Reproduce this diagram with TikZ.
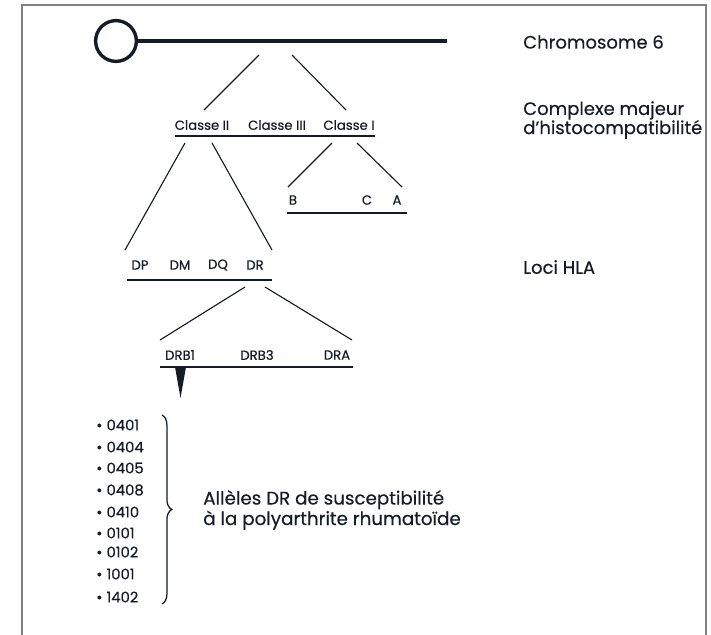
\documentclass[tikz,border=0pt]{standalone}
\usepackage{fontspec}
\setmainfont{Poppins}[FakeBold=0.35]
\usetikzlibrary{positioning, decorations.pathreplacing}

\definecolor{ink}{RGB}{20,28,40}

\begin{document}
\begin{tikzpicture}[x=0.025cm, y=-0.025cm, ink,
    lbl/.style={inner sep=0pt, font=\fontsize{9.4}{10}\selectfont},
    side/.style={inner sep=0pt, anchor=west, align=left, font=\fontsize{12.8}{13.6}\selectfont},
    allele/.style={inner sep=0pt, anchor=west, font=\fontsize{10.5}{11}\selectfont},
    bar/.style={line width=2pt},
    twig/.style={line width=0.8pt}]
    \useasboundingbox (0,0) rectangle (711,634);

    % frame
    \draw[gray, line width=0.9pt] (22,650) -- (22,5) -- (706,5) -- (706,650);

    % chromosome 6
    \node[circle, draw, line width=2.4pt, minimum size=29, inner sep=0pt] (cent) at (116,41) {};
    \coordinate (chr-end) at (447,41);
    \draw[line width=2.4pt] (cent.east) -- (chr-end);
    \node[side] (lab-chr) at (523,42) {Chromosome 6};

    % complexe majeur
    \coordinate (chr-l) at (259,55);
    \coordinate (chr-r) at (292,55);
    \node[lbl] (cl2) at (202,125) {Classe II};
    \node[lbl] (cl3) at (277,125) {Classe III};
    \node[lbl] (cl1) at (349,125) {Classe I};
    \coordinate (cmh-w) at (175,136);
    \coordinate (cmh-e) at (375,136);
    \draw[bar] (cmh-w) -- (cmh-e);
    \draw[twig] (chr-l) -- (204,110);
    \draw[twig] (chr-r) -- (346,110);
    \node[side] (lab-cmh) at (523,120) {Complexe majeur\\d'histocompatibilité};

    % classe I
    \node[lbl] (gB) at (293,200) {B};
    \node[lbl] (gC) at (367,200) {C};
    \node[lbl] (gA) at (397,200) {A};
    \draw[bar] (287,213) -- (407,213);
    \draw[twig] (332,143) -- (288,187);
    \draw[twig] (357,143) -- (402,187);

    % loci HLA
    \node[lbl] (dp) at (140,265) {DP};
    \node[lbl] (dm) at (180,265) {DM};
    \node[lbl] (dq) at (218,265) {DQ};
    \node[lbl] (dr) at (255,265) {DR};
    \draw[bar] (127,280) -- (272,280);
    \draw[twig] (185,143) -- (125,250);
    \draw[twig] (212,143) -- (272,250);
    \node[side] (lab-hla) at (523,267) {Loci HLA};

    % region DR
    \node[lbl] (drb1) at (180,355) {DRB1};
    \node[lbl] (drb3) at (257,355) {DRB3};
    \node[lbl] (dra) at (337,355) {DRA};
    \draw[bar] (160,367) -- (353,367);
    \draw[twig] (245,287) -- (160,340);
    \draw[twig] (265,287) -- (352,340);
    \fill (175,367) -- (186,367) -- (180.5,398) -- cycle;

    % alleles
    \foreach \code/\yy [count=\i] in {0401/425, 0404/447, 0405/468, 0408/490, 0410/512,
        0101/533, 0102/552, 1001/574, 1402/597}
      \node[allele] (al\i) at (96,\yy) {\textbullet\hspace{3pt}\code};
    \draw[line width=0.9pt, decorate, decoration={brace, amplitude=7pt}]
      (162,415) -- (162,604);
    \node[side, font=\fontsize{13}{13}\selectfont] (lab-al) at (203,510)
      {Allèles DR de susceptibilité\\à la polyarthrite rhumatoïde};
\end{tikzpicture}
\end{document}
